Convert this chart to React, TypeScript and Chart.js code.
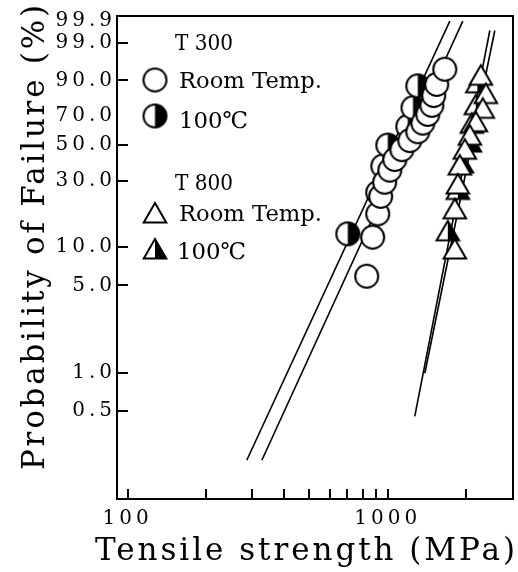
import React, { useEffect, useRef } from 'react';
import { Chart, registerables } from 'chart.js';

Chart.register(...registerables);

// ---- axis data ----
const X_RANGE = [91, 3030];
const Y_RANGE_PCT = [0.0975, 99.95];
const X_TICKS = [100, 200, 300, 400, 500, 600, 700, 800, 900, 1000, 2000];
const X_TICK_LABELS = [100, 1000];
const Y_TICKS_PCT = [0.5, 1.0, 5.0, 10.0, 30.0, 50.0, 70.0, 90.0, 99.0, 99.9];
const Y_TICK_LABELS = ['0.5', '1.0', '5.0', '10.0', '30.0', '50.0', '70.0', '90.0', '99.0', '99.9'];
const Y_TICKS_UNMARKED = [70.0, 99.9];

// ---- series data (strength MPa, probability %) ----
const T300_RT_STRENGTH = [830, 875, 915, 939, 973, 1018, 1064, 1133, 1215, 1304, 1364, 1425, 1477, 1502, 1542, 1656];
const T300_RT_PROB = [5.9, 11.8, 17.6, 23.5, 29.4, 35.3, 41.2, 47.1, 52.9, 58.8, 64.7, 70.6, 76.5, 82.4, 88.2, 94.1];

const T300_100C_STRENGTH = [702, 915, 957, 1000, 1194, 1250, 1304];
const T300_100C_PROB = [12.5, 25, 37.5, 50, 62.5, 75, 87.5];

const T800_RT_STRENGTH = [1810, 1810, 1859, 1892, 1978, 2068, 2181, 2319, 2382, 2279];
const T800_RT_PROB = [9.1, 18.2, 27.3, 36.4, 45.5, 54.5, 63.6, 72.7, 81.8, 90.9];

const T800_100C_STRENGTH = [1701, 1859, 1927, 2068, 2104, 2181, 2210];
const T800_100C_PROB = [12.5, 25, 37.5, 50, 62.5, 75, 87.5];

// fitted Weibull lines: [strength, probability %] end points
const T300_100C_FIT = [[287, 0.2], [1732, 99.9]];
const T300_RT_FIT = [[328, 0.2], [1943, 99.9]];
const T800_RT_FIT = [[1270, 0.45], [2468, 99.7]];
const T800_100C_FIT = [[1388, 1.0], [2579, 99.7]];

const LEGEND_GROUPS = ['T 300', 'T 800'];
const LEGEND_LABELS = ['Room Temp.', '100\u2103'];
const X_TITLE = 'Tensile strength (MPa)';
const Y_TITLE = 'Probability of Failure (%)';

const weib = (p: number) => Math.log(-Math.log(1 - p / 100));

const SERIF = "'DejaVu Serif', 'Liberation Serif', serif";

function spacedText(ctx: CanvasRenderingContext2D, str: string, left: number, baseline: number, size: number, target: number) {
  const c: any = ctx;
  ctx.font = `${size}px ${SERIF}`;
  c.letterSpacing = '0px';
  const w = ctx.measureText(str).width;
  const n = str.length;
  if (w >= target || n < 2) {
    ctx.fillText(str, left, baseline, target);
    return;
  }
  c.letterSpacing = `${(target - w) / (n - 1)}px`;
  ctx.fillText(str, left, baseline);
  c.letterSpacing = '0px';
}

function makeHalfCircle(r: number, lw: number) {
  const s = Math.ceil(2 * r + lw + 2);
  const c = document.createElement('canvas');
  c.width = s; c.height = s;
  const g = c.getContext('2d')!;
  const cx = s / 2, cy = s / 2;
  g.beginPath(); g.arc(cx, cy, r, 0, Math.PI * 2); g.fillStyle = '#fff'; g.fill();
  g.beginPath(); g.moveTo(cx, cy - r); g.arc(cx, cy, r, -Math.PI / 2, Math.PI / 2); g.closePath();
  g.fillStyle = '#000'; g.fill();
  g.beginPath(); g.arc(cx, cy, r, 0, Math.PI * 2); g.lineWidth = lw; g.strokeStyle = '#000'; g.stroke();
  return c;
}

function triPath(g: CanvasRenderingContext2D, cx: number, cy: number, r: number) {
  g.beginPath();
  g.moveTo(cx, cy - r);
  g.lineTo(cx + 0.866 * r, cy + 0.5 * r);
  g.lineTo(cx - 0.866 * r, cy + 0.5 * r);
  g.closePath();
}

function makeTriangle(r: number, lw: number, half: boolean) {
  const s = Math.ceil(2 * r + lw + 4);
  const c = document.createElement('canvas');
  c.width = s; c.height = s;
  const g = c.getContext('2d')!;
  const cx = s / 2, cy = s / 2;
  triPath(g, cx, cy, r); g.fillStyle = '#fff'; g.fill();
  if (half) {
    g.beginPath(); g.moveTo(cx, cy - r); g.lineTo(cx + 0.866 * r, cy + 0.5 * r); g.lineTo(cx, cy + 0.5 * r); g.closePath();
    g.fillStyle = '#000'; g.fill();
  }
  triPath(g, cx, cy, r); g.lineJoin = 'miter'; g.lineWidth = lw; g.strokeStyle = '#000'; g.stroke();
  return c;
}

function makeOpenCircle(r: number, lw: number) {
  const s = Math.ceil(2 * r + lw + 2);
  const c = document.createElement('canvas');
  c.width = s; c.height = s;
  const g = c.getContext('2d')!;
  g.beginPath(); g.arc(s / 2, s / 2, r, 0, Math.PI * 2); g.fillStyle = '#fff'; g.fill();
  g.lineWidth = lw; g.strokeStyle = '#000'; g.stroke();
  return c;
}

export default function App() {
  const ref = useRef<HTMLCanvasElement | null>(null);

  useEffect(() => {
    document.body.style.margin = '0';
    const canvas = ref.current!;
    const R_C = 11.5, R_T = 13, LW = 2;
    const openCircle = makeOpenCircle(R_C, LW);
    const halfCircle = makeHalfCircle(R_C, LW);
    const openTri = makeTriangle(R_T, LW, false);
    const halfTri = makeTriangle(R_T, LW, true);

    const pts = (xs: number[], ps: number[]) => xs.map((x, i) => ({ x, y: weib(ps[i]) }));
    const fit = (arr: number[][]) => arr.map(([x, p]) => ({ x, y: weib(p) }));

    const lineDs = (arr: number[][]) => ({
      type: 'line' as const,
      data: fit(arr),
      showLine: true,
      borderColor: '#000',
      borderWidth: 1.6,
      pointRadius: 0,
      fill: false,
      order: 10,
    });
    const markDs = (data: any[], style: HTMLCanvasElement, order: number) => ({
      type: 'scatter' as const,
      data,
      pointStyle: style,
      pointRadius: 12,
      order,
    });

    const plugin = {
      id: 'frameLegendTitles',
      beforeDraw(chart: any) {
        chart.ctx.letterSpacing = '4px';
      },
      beforeDatasetsDraw(chart: any) {
        chart.ctx.letterSpacing = '0px';
      },
      afterDraw(chart: any) {
        const { ctx, chartArea: a } = chart;
        ctx.save();
        ctx.letterSpacing = '0px';
        ctx.strokeStyle = '#000';
        ctx.lineWidth = 2;
        ctx.beginPath();
        ctx.moveTo(a.left, a.top);
        ctx.lineTo(a.right, a.top);
        ctx.lineTo(a.right, a.bottom);
        ctx.stroke();

        // legend
        ctx.fillStyle = '#000';
        ctx.textBaseline = 'alphabetic';
        ctx.textAlign = 'left';
        const mx = a.left + 38;
        const put = (img: HTMLCanvasElement, cy: number) =>
          ctx.drawImage(img, mx - img.width / 2, cy - img.height / 2);
        spacedText(ctx, LEGEND_GROUPS[0], 175, 50, 23, 58);
        put(openCircle, 80);
        spacedText(ctx, LEGEND_LABELS[0], 179, 88, 23, 143);
        put(halfCircle, 116);
        spacedText(ctx, LEGEND_LABELS[1], 179, 128, 23, 69);
        spacedText(ctx, LEGEND_GROUPS[1], 175, 190, 23, 58);
        put(openTri, 216);
        spacedText(ctx, LEGEND_LABELS[0], 179, 221, 23, 143);
        put(halfTri, 252);
        spacedText(ctx, LEGEND_LABELS[1], 177, 259, 23, 69);

        // axis titles
        spacedText(ctx, X_TITLE, 95, 560, 31, 420);
        ctx.save();
        ctx.translate(44, 470);
        ctx.rotate(-Math.PI / 2);
        spacedText(ctx, Y_TITLE, 0, 0, 31, 465);
        ctx.restore();
        ctx.restore();
      },
    };

    const chart = new Chart(canvas, {
      type: 'scatter',
      data: {
        datasets: [
          lineDs(T300_100C_FIT),
          lineDs(T300_RT_FIT),
          lineDs(T800_RT_FIT),
          lineDs(T800_100C_FIT),
          markDs(pts(T300_100C_STRENGTH, T300_100C_PROB), halfCircle, 4),
          markDs(pts(T300_RT_STRENGTH, T300_RT_PROB), openCircle, 3),
          markDs(pts(T800_100C_STRENGTH, T800_100C_PROB).reverse(), halfTri, 2),
          markDs(pts(T800_RT_STRENGTH, T800_RT_PROB).reverse(), openTri, 1),
        ] as any,
      },
      options: {
        animation: false,
        responsive: false,
        events: [],
        layout: { autoPadding: false, padding: { top: 16, right: 5, left: 0, bottom: 0 } },
        plugins: { legend: { display: false }, tooltip: { enabled: false } },
        scales: {
          x: {
            type: 'logarithmic',
            min: X_RANGE[0],
            max: X_RANGE[1],
            afterFit: (s: any) => { s.height = 73; s.paddingLeft = 0; s.paddingRight = 0; },
            afterBuildTicks: (s: any) => { s.ticks = X_TICKS.map((v) => ({ value: v })); },
            ticks: {
              autoSkip: false,
              maxRotation: 0,
              color: '#000',
              padding: 18,
              font: { family: SERIF, size: 20 },
              callback: (v: any) => (X_TICK_LABELS.includes(Number(v)) ? String(v) : ''),
            },
            grid: { drawOnChartArea: false, tickLength: -10, color: '#000', lineWidth: 2 },
            border: { color: '#000', width: 2 },
          },
          y: {
            type: 'linear',
            min: weib(Y_RANGE_PCT[0]),
            max: weib(Y_RANGE_PCT[1]),
            afterFit: (s: any) => { s.width = 117; s.paddingTop = 0; s.paddingBottom = 0; },
            afterBuildTicks: (s: any) => { s.ticks = Y_TICKS_PCT.map((p) => ({ value: weib(p) })); },
            ticks: {
              autoSkip: false,
              color: '#000',
              padding: 12,
              font: { family: SERIF, size: 20 },
              callback: (_v: any, i: number) => Y_TICK_LABELS[i],
            },
            grid: {
              drawOnChartArea: false,
              tickLength: -11,
              lineWidth: 2,
              color: (c: any) => (Y_TICKS_UNMARKED.includes(Y_TICKS_PCT[c.index]) ? 'rgba(0,0,0,0)' : '#000'),
            },
            border: { color: '#000', width: 2 },
          },
        },
      },
      plugins: [plugin],
    });
    return () => chart.destroy();
  }, []);

  return (
    <div style={{ width: 518, height: 572 }}>
      <canvas ref={ref} width={518} height={572} style={{ display: 'block' }} />
    </div>
  );
}
